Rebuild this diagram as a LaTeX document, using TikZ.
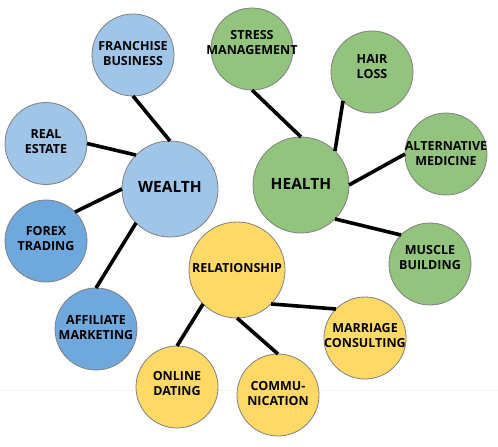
\documentclass[tikz,border=0pt]{standalone}
\usepackage{fontspec}
\setmainfont{Open Sans}
\begin{document}
\begin{tikzpicture}[x=1pt,y=-1pt,
  bub/.style={circle,draw=black!50,line width=0.8pt,inner sep=0pt,outer sep=0pt,minimum size=82pt},
  hub/.style={bub,minimum size=96pt},
  lb/.style={fill=blueL}, db/.style={fill=blueD}, gr/.style={fill=greenC}, ye/.style={fill=yellowC},
  txt/.style={font=\bfseries\fontsize{12.5}{15}\selectfont,align=center,inner sep=0pt,text=black},
  htxt/.style={font=\bfseries\fontsize{15.5}{18}\selectfont,align=center,inner sep=0pt,text=black},
  link/.style={line width=3.6pt,draw=black}]
\definecolor{blueL}{HTML}{9FC5E8}
\definecolor{blueD}{HTML}{6FA8DC}
\definecolor{greenC}{HTML}{93C47D}
\definecolor{yellowC}{HTML}{FFD966}
\useasboundingbox (0,0) rectangle (498,447);
\fill[white] (0,0) rectangle (498,447);
\draw[black!4,line width=1pt] (0,390) -- (498,390);
% hubs
\node[hub,lb] (w) at (170,189) {};
\node[hub,gr] (h) at (301,185) {};
\node[hub,ye] (r) at (237,270) {};
% spokes
\node[bub,lb] (fr) at (133,55) {};
\node[bub,lb] (re) at (46,143.5) {};
\node[bub,db] (fx) at (46,241) {};
\node[bub,db] (af) at (96,329) {};
\node[bub,gr] (st) at (252,49) {};
\node[bub,gr] (hl) at (372,72) {};
\node[bub,gr] (al) at (446,154) {};
\node[bub,gr] (mu) at (430,264) {};
\node[bub,ye] (od) at (177,387) {};
\node[bub,ye] (cm) at (278,395) {};
\node[bub,ye] (mc) at (365,338) {};
% links
\draw[link] (fr.south) -- (w.north);
\draw[link] (re.east) -- (w.north west);
\draw[link] (fx.north east) -- (w.west);
\draw[link] (af.north) -- (w.south west);
\draw[link] (st.south) -- (h.north);
\draw[link] (hl.south west) -- (h.north east);
\draw[link] (al.west) -- (h.east);
\draw[link] (mu.north west) -- (h.south east);
\draw[link] (od.north) -- (r.south west);
\draw[link] (cm.north) -- (r.south);
\draw[link] (mc.north west) -- (r.south east);
% texts
\node[htxt] (tw) at ([yshift=2pt]w.center) {WEALTH};
\node[htxt] (th) at ([yshift=1pt]h.center) {HEALTH};
\node[txt] (tr) at ([yshift=2pt]r.center) {RELATIONSHIP};
\node[txt] (tfr) at ([yshift=1pt]fr.center) {FRANCHISE\\BUSINESS};
\node[txt] (tre) at ([yshift=2pt]re.center) {REAL\\ESTATE};
\node[txt] (tfx) at ([yshift=2pt]fx.center) {FOREX\\TRADING};
\node[txt] (taf) at ([yshift=1pt]af.center) {AFFILIATE\\MARKETING};
\node[txt] (tst) at ([yshift=6pt]st.center) {STRESS\\MANAGEMENT};
\node[txt] (thl) at ([yshift=5pt]hl.center) {HAIR\\LOSS};
\node[txt] (tal) at (al.center) {ALTERNATIVE\\MEDICINE};
\node[txt] (tmu) at ([yshift=6pt]mu.center) {MUSCLE\\BUILDING};
\node[txt] (tod) at ([yshift=3pt]od.center) {ONLINE\\DATING};
\node[txt] (tcm) at ([yshift=1pt]cm.center) {COMMU-\\NICATION};
\node[txt] (tmc) at ([yshift=2pt]mc.center) {MARRIAGE\\CONSULTING};
\end{tikzpicture}
\end{document}
